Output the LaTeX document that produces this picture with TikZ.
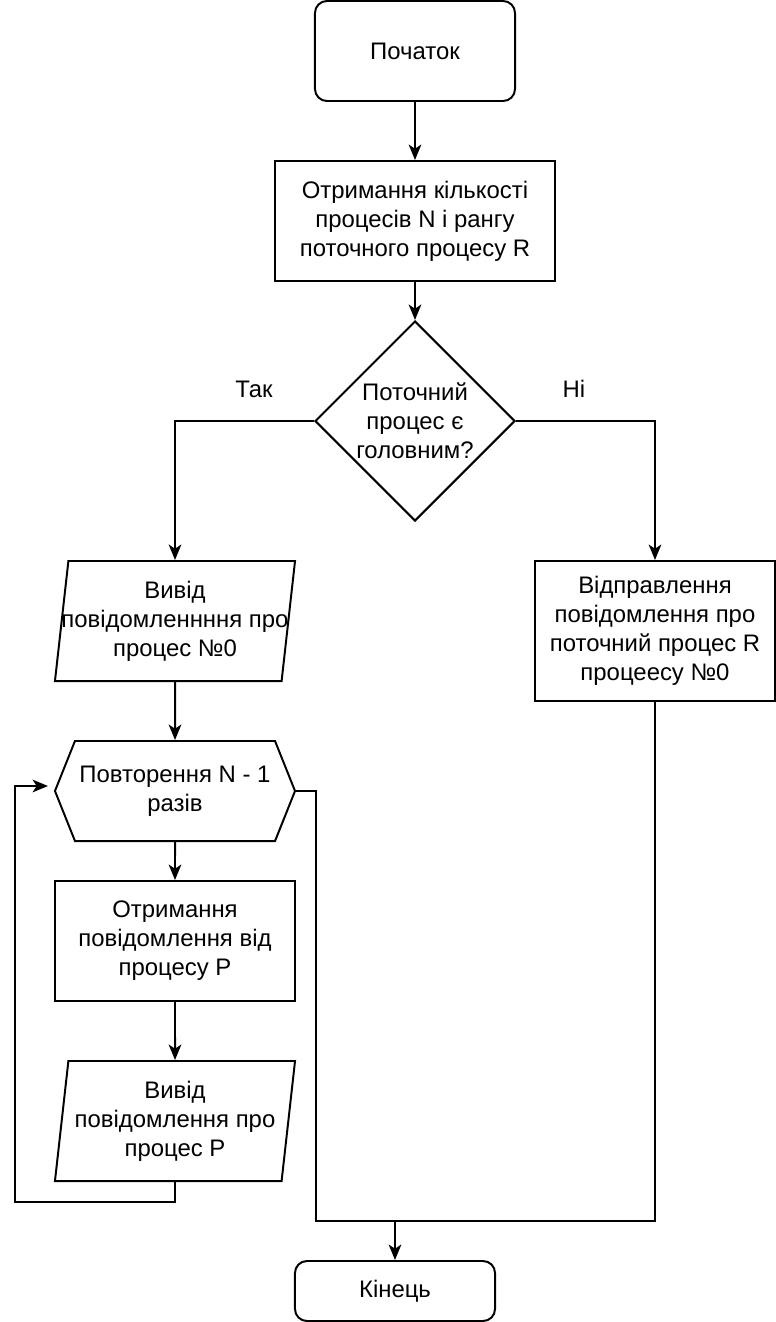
\documentclass[tikz,border=0pt]{standalone}
\usepackage{fontspec}
\setmainfont{Liberation Sans}
\usetikzlibrary{shapes.geometric,shapes.symbols,arrows.meta}

\begin{document}
\begin{tikzpicture}[x=0.025cm,y=-0.025cm]
\tikzstyle{base}=[draw, line width=1.4pt, align=center, inner sep=0pt, font=\fontsize{17}{20.6}\selectfont]
\tikzstyle{terminal}=[base, rectangle, rounded corners=0.3cm, minimum width=5cm, minimum height=2.5cm]
\tikzstyle{process}=[base, rectangle, minimum width=6cm, minimum height=3cm]
\tikzstyle{decision}=[base, diamond, aspect=1, minimum width=5cm, minimum height=5cm]
\tikzstyle{io}=[base, trapezium, trapezium left angle=80.5, trapezium right angle=99.5, trapezium stretches body, inner xsep=-0.4cm, minimum width=6cm, minimum height=3cm]
\tikzstyle{loopbox}=[base, signal, signal to=west and east, signal pointer angle=136.4, minimum width=6cm, minimum height=2.5cm]
\tikzstyle{line}=[draw, line width=1.4pt, -{Stealth[length=11pt, width=9pt, inset=3pt]}]
\tikzstyle{plain}=[draw, line width=1.4pt]
\tikzstyle{lbl}=[font=\fontsize{17}{20.6}\selectfont]

\useasboundingbox (0,0) rectangle (776,1322);

% Define blocks
\node[terminal] (start) at (415,51) {Початок};
\node[process, minimum width=7cm] (counts) at (415,221) {Отримання кількості\\процесів N і рангу\\поточного процесу R};
\node[decision] (ismain) at (415,421) {Поточний\\ процес є\\головним?};
\node[io] (print0) at (175,621) {Вивід\\повідомленнння про\\процес №0};
\node[process, minimum height=3.5cm] (send) at (655,631) {Відправлення\\повідомлення про\\поточний процес R\\процеесу №0};
\node[loopbox] (repeat) at (175,791) {Повторення N - 1\\разів};
\node[process] (recv) at (175,941) {Отримання\\повідомлення від\\процесу P};
\node[io] (printp) at (175,1121) {Вивід\\повідомлення про\\процес P};
\node[terminal, minimum height=1.5cm] (finish) at (395,1291) {Кінець};

% Branch labels
\node[lbl] (yes) at (254,389) {Так};
\node[lbl] (no) at (574,389) {Ні};

% Helper points
\coordinate (loopend) at (48,786);
\coordinate (merge) at (395,1221);

% Connections
\draw[line] (start) -- (counts);
\draw[line] (counts) -- (ismain);
\draw[line] (ismain.west) -| (print0);
\draw[line] (ismain.east) -| (send);
\draw[line] (print0) -- (repeat);
\draw[line] (repeat) -- (recv);
\draw[line] (recv) -- (printp);
\draw[line] (printp.south) -- ++(0,20) -| (15,786) -- (loopend);
\draw[line] (repeat.east) -- ++(20,0) |- (merge) -- (finish);
\draw[plain] (send.south) |- (merge);
\end{tikzpicture}
\end{document}
